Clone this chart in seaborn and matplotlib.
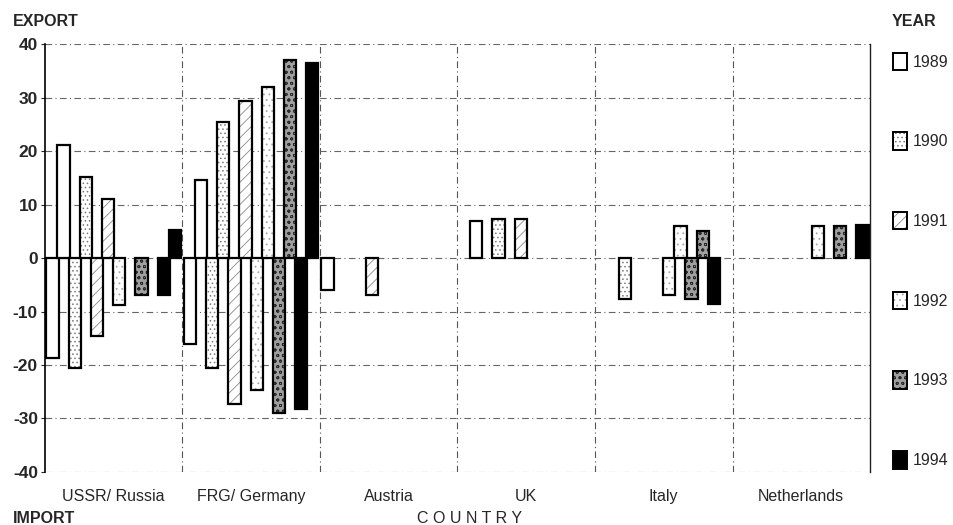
import numpy as np
import pandas as pd
import seaborn as sns
import matplotlib.pyplot as plt
import matplotlib.colors as mcolors
from matplotlib.patches import Patch

countries = ['USSR/ Russia', 'FRG/ Germany', 'Austria', 'UK', 'Italy', 'Netherlands']
years = ['1989', '1990', '1991', '1992', '1993', '1994']
nan = np.nan

# import values per country (negative), one value per year
import_values = [
    [-18.7, -20.6, -14.6, -8.7, -6.9, -6.9],
    [-16.1, -20.6, -27.3, -24.7, -29.0, -28.2],
    [-5.9, nan, -6.9, nan, nan, nan],
    [nan, nan, nan, nan, nan, nan],
    [nan, -7.7, nan, -6.9, -7.7, -8.6],
    [nan, nan, nan, nan, nan, nan],
]
# export values per country, one value per year
export_values = [
    [21.2, 15.2, 11.0, nan, nan, 5.2],
    [14.5, 25.5, 29.4, 32.0, 37.0, 36.4],
    [nan, nan, nan, nan, nan, nan],
    [6.9, 7.3, 7.3, nan, nan, nan],
    [nan, nan, nan, 6.0, 5.0, nan],
    [nan, nan, nan, 6.0, 6.0, 6.2],
]

year_faces = ['white', 'white', 'white', 'white', '#a0a0a0', 'black']
year_hatches = ['', '....', '///', '...', 'ooo', '']
hatch_colors = ['black', '#7a7a7a', '#8a8a8a', '#a8a8a8', '#2a2a2a', 'black']

rows = []
slots = []
for y in years:
    slots += [y + ' import', y + ' export']
for ci, c in enumerate(countries):
    for yi, y in enumerate(years):
        rows.append((c, y + ' import', import_values[ci][yi]))
        rows.append((c, y + ' export', export_values[ci][yi]))
df = pd.DataFrame(rows, columns=['country', 'slot', 'value']).dropna()

sns.set_style('white')
plt.rcParams['font.family'] = ['Liberation Sans', 'DejaVu Sans']
plt.rcParams['hatch.linewidth'] = 0.6
plt.rcParams['axes.unicode_minus'] = False

fig = plt.figure(figsize=(9.54, 5.25), dpi=100)
ax = fig.add_axes([0.047, 0.101, 0.865, 0.815])

slot_colors = [year_faces[i // 2] for i in range(len(slots))]
sns.barplot(data=df, x='country', y='value', hue='slot', order=countries,
            hue_order=slots, palette=slot_colors, width=0.97, dodge=True,
            errorbar=None, edgecolor='black', linewidth=1.6, legend=False, ax=ax)


def style_patch(p, i):
    p.set_facecolor(year_faces[i])
    p.set_hatch(year_hatches[i])
    p.set_edgecolor('black')
    # lighter stipple than the black outline
    p._hatch_color = mcolors.to_rgba(hatch_colors[i])


for i, cont in enumerate(ax.containers):
    for p in cont.patches:
        style_patch(p, i // 2)
        # bars in the original slightly overlap their neighbours
        w = p.get_width()
        p.set_x(p.get_x() - 0.05 * w)
        p.set_width(w * 1.1)

ax.set_ylim(-40, 40)
ax.set_xlim(-0.5, len(countries) - 0.5)
ax.set_yticks(range(-40, 41, 10))
ax.set_axisbelow(True)
ax.yaxis.grid(True, color='#666666', linestyle=(0, (6, 3, 1, 3)), linewidth=0.8)
for xb in np.arange(0.5, len(countries) - 0.5, 1):
    ax.axvline(xb, color='#555555', linestyle=(0, (6, 3, 1, 3)), linewidth=0.8, zorder=0)

for side in ['top', 'bottom']:
    ax.spines[side].set_visible(False)
ax.spines['left'].set_linewidth(1.2)
ax.spines['right'].set_linewidth(1.0)
ax.spines['left'].set_color('black')
ax.spines['right'].set_color('#222222')

ax.set_xlabel('')
ax.set_ylabel('')
ax.tick_params(axis='y', length=3, width=0.8, labelsize=12.5, pad=2, left=True)
for t in ax.get_yticklabels():
    t.set_fontweight('bold')
ax.tick_params(axis='x', length=0, labelsize=11.5, pad=12)

fig.text(0.013, 0.96, 'EXPORT', fontsize=11.5, fontweight='bold', va='center')
fig.text(0.013, 0.013, 'IMPORT', fontsize=11.5, fontweight='bold', va='center')
fig.text(0.492, 0.013, 'C O U N T R Y', fontsize=11.5, va='center', ha='center')
fig.text(0.958, 0.96, 'YEAR', fontsize=11.5, fontweight='bold', va='center', ha='center')

handles = []
for i in range(len(years)):
    h = Patch(linewidth=1.4)
    style_patch(h, i)
    handles.append(h)
ax.legend(handles, years, loc='upper left', bbox_to_anchor=(1.02, 0.995), frameon=False,
          fontsize=11.5, handlelength=0.85, handleheight=1.3, handletextpad=0.4,
          labelspacing=3.9, borderaxespad=0)

fig.savefig('out.png', dpi=100)
